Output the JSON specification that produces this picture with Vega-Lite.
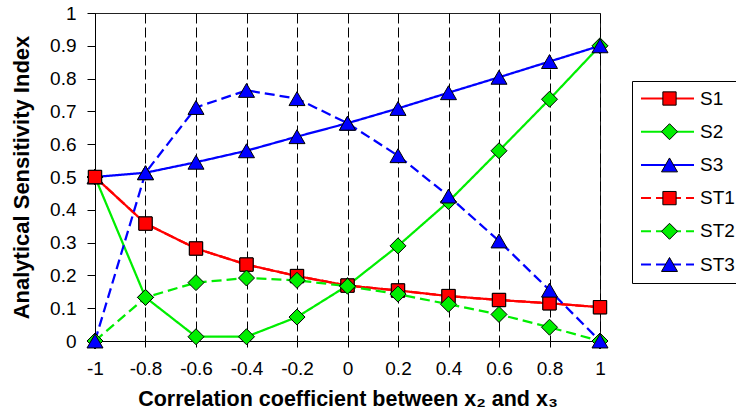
{
  "$schema": "https://vega.github.io/schema/vega-lite/v6.json",
  "width": 505,
  "height": 328,
  "autosize": {"type": "none"},
  "padding": {"left": 95, "top": 13, "right": 136, "bottom": 73},
  "background": "white",
  "config": {
    "font": "Liberation Sans",
    "view": {"stroke": "#222", "strokeWidth": 1}
  },
  "data": {
    "values": [
      {"x": -1, "series": "S1", "y": 0.5}, {"x": -0.8, "series": "S1", "y": 0.358}, {"x": -0.6, "series": "S1", "y": 0.282}, {"x": -0.4, "series": "S1", "y": 0.233}, {"x": -0.2, "series": "S1", "y": 0.198}, {"x": 0, "series": "S1", "y": 0.169}, {"x": 0.2, "series": "S1", "y": 0.154}, {"x": 0.4, "series": "S1", "y": 0.137}, {"x": 0.6, "series": "S1", "y": 0.125}, {"x": 0.8, "series": "S1", "y": 0.115}, {"x": 1, "series": "S1", "y": 0.103},
      {"x": -1, "series": "S2", "y": 0.5}, {"x": -0.8, "series": "S2", "y": 0.133}, {"x": -0.6, "series": "S2", "y": 0.013}, {"x": -0.4, "series": "S2", "y": 0.013}, {"x": -0.2, "series": "S2", "y": 0.073}, {"x": 0, "series": "S2", "y": 0.169}, {"x": 0.2, "series": "S2", "y": 0.29}, {"x": 0.4, "series": "S2", "y": 0.425}, {"x": 0.6, "series": "S2", "y": 0.58}, {"x": 0.8, "series": "S2", "y": 0.737}, {"x": 1, "series": "S2", "y": 0.9},
      {"x": -1, "series": "S3", "y": 0.5}, {"x": -0.8, "series": "S3", "y": 0.513}, {"x": -0.6, "series": "S3", "y": 0.545}, {"x": -0.4, "series": "S3", "y": 0.58}, {"x": -0.2, "series": "S3", "y": 0.623}, {"x": 0, "series": "S3", "y": 0.664}, {"x": 0.2, "series": "S3", "y": 0.709}, {"x": 0.4, "series": "S3", "y": 0.757}, {"x": 0.6, "series": "S3", "y": 0.804}, {"x": 0.8, "series": "S3", "y": 0.852}, {"x": 1, "series": "S3", "y": 0.9},
      {"x": -1, "series": "ST1", "y": 0.5}, {"x": -0.8, "series": "ST1", "y": 0.358}, {"x": -0.6, "series": "ST1", "y": 0.282}, {"x": -0.4, "series": "ST1", "y": 0.233}, {"x": -0.2, "series": "ST1", "y": 0.198}, {"x": 0, "series": "ST1", "y": 0.169}, {"x": 0.2, "series": "ST1", "y": 0.154}, {"x": 0.4, "series": "ST1", "y": 0.137}, {"x": 0.6, "series": "ST1", "y": 0.125}, {"x": 0.8, "series": "ST1", "y": 0.115}, {"x": 1, "series": "ST1", "y": 0.103},
      {"x": -1, "series": "ST2", "y": 0}, {"x": -0.8, "series": "ST2", "y": 0.133}, {"x": -0.6, "series": "ST2", "y": 0.178}, {"x": -0.4, "series": "ST2", "y": 0.192}, {"x": -0.2, "series": "ST2", "y": 0.185}, {"x": 0, "series": "ST2", "y": 0.167}, {"x": 0.2, "series": "ST2", "y": 0.143}, {"x": 0.4, "series": "ST2", "y": 0.112}, {"x": 0.6, "series": "ST2", "y": 0.081}, {"x": 0.8, "series": "ST2", "y": 0.042}, {"x": 1, "series": "ST2", "y": 0},
      {"x": -1, "series": "ST3", "y": 0}, {"x": -0.8, "series": "ST3", "y": 0.513}, {"x": -0.6, "series": "ST3", "y": 0.712}, {"x": -0.4, "series": "ST3", "y": 0.764}, {"x": -0.2, "series": "ST3", "y": 0.739}, {"x": 0, "series": "ST3", "y": 0.664}, {"x": 0.2, "series": "ST3", "y": 0.565}, {"x": 0.4, "series": "ST3", "y": 0.442}, {"x": 0.6, "series": "ST3", "y": 0.305}, {"x": 0.8, "series": "ST3", "y": 0.155}, {"x": 1, "series": "ST3", "y": 0}
    ]
  },
  "encoding": {
    "x": {
      "field": "x", "type": "quantitative",
      "scale": {"domain": [-1, 1], "nice": false, "zero": false},
      "axis": {
        "values": [-1, -0.8, -0.6, -0.4, -0.2, 0, 0.2, 0.4, 0.6, 0.8, 1],
        "labelExpr": "datum.value == 0 ? '0' : (datum.value < 0 ? '-' : '') + format(abs(datum.value), '~g')",
        "tickSize": 6, "tickColor": "black", "domainColor": "black",
        "grid": true, "gridDash": [10, 4], "gridColor": "black", "gridWidth": 1,
        "labelFontSize": 19, "labelColor": "black", "labelPadding": 12, "labelFlush": false,
        "title": "Correlation coefficient between x₂ and x₃",
        "titleFontSize": 21.5, "titleFontWeight": "bold", "titleColor": "black", "titlePadding": 10
      }
    },
    "y": {
      "field": "y", "type": "quantitative",
      "scale": {"domain": [0, 1], "nice": false},
      "axis": {
        "values": [0, 0.1, 0.2, 0.3, 0.4, 0.5, 0.6, 0.7, 0.8, 0.9, 1],
        "format": "~g",
        "tickSize": 8, "tickColor": "black", "domainColor": "black", "grid": false,
        "labelFontSize": 19, "labelColor": "black", "labelPadding": 11, "labelFlush": false,
        "title": "Analytical Sensitivity Index",
        "titleFontSize": 22, "titleFontWeight": "bold", "titleColor": "black", "titlePadding": 16
      }
    }
  },
  "layer": [
    {
      "mark": {"type": "line", "strokeWidth": 2.25},
      "encoding": {
        "color": {
          "field": "series", "type": "nominal",
          "scale": {"range": ["#ff0000", "#00ee00", "#0000ff", "#ff0000", "#00ee00", "#0000ff"]},
          "legend": {
            "title": null, "orient": "none", "legendX": 537, "legendY": 68,
            "symbolType": "stroke", "symbolSize": 2809, "symbolStrokeWidth": 2,
            "labelFontSize": 19, "labelColor": "black", "labelOffset": 5, "labelLimit": 200,
            "clipHeight": 19, "rowPadding": 13.2, "padding": 8,
            "strokeColor": "black", "fillColor": "white", "zindex": 1
          }
        },
        "strokeDash": {
          "field": "series", "type": "nominal",
          "scale": {"range": [[1, 0], [1, 0], [1, 0], [10, 5], [10, 5], [10, 5]]}
        }
      }
    },
    {
      "transform": [{"calculate": "datum.series", "as": "key"}],
      "mark": {"type": "point", "filled": true, "stroke": "black", "strokeWidth": 1, "opacity": 1, "size": 256},
      "encoding": {
        "fill": {
          "field": "key", "type": "nominal",
          "scale": {"range": ["#ff0000", "#00ee00", "#0000ff", "#ff0000", "#00ee00", "#0000ff"]},
          "legend": {
            "title": null, "orient": "none", "legendX": 537, "legendY": 68,
            "symbolSize": 256, "symbolStrokeColor": "black", "symbolStrokeWidth": 1, "symbolOpacity": 1,
            "symbolOffset": 20,
            "labelExpr": "''", "labelFontSize": 19, "labelOffset": 5,
            "clipHeight": 19, "rowPadding": 13.2, "padding": 8, "zindex": 2
          }
        },
        "shape": {
          "field": "key", "type": "nominal",
          "scale": {"range": ["M-0.83,-0.83H0.83V0.83H-0.83Z", "M0,-1L1,0L0,1L-1,0Z", "M0,-0.87L1,0.87L-1,0.87Z", "M-0.83,-0.83H0.83V0.83H-0.83Z", "M0,-1L1,0L0,1L-1,0Z", "M0,-0.87L1,0.87L-1,0.87Z"]}
        }
      }
    }
  ]
}
